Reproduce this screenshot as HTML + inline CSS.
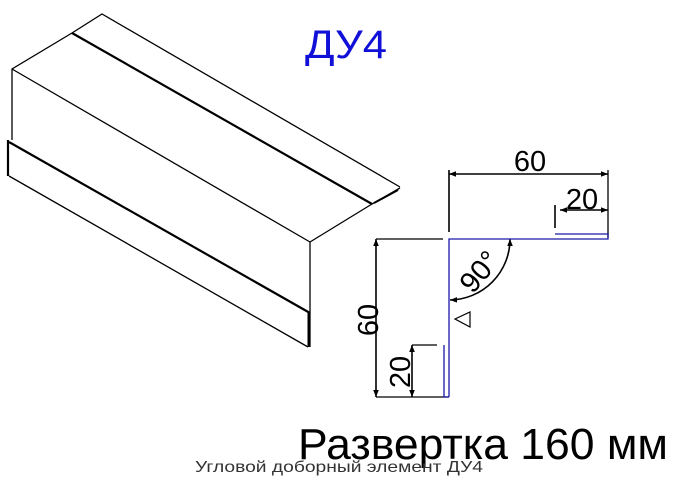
<!DOCTYPE html>
<html><head><meta charset="utf-8"><style>
html,body{margin:0;padding:0;background:#fff;}
svg{display:block;}
</style></head><body>
<svg width="684" height="490" viewBox="0 0 684 490" xmlns="http://www.w3.org/2000/svg">
<defs>
<marker id="a" viewBox="0 0 10 10" refX="10" refY="5" markerWidth="14" markerHeight="7" orient="auto-start-reverse" markerUnits="userSpaceOnUse"><path d="M0,1 L10,5 L0,9 z" fill="#000"/></marker>
</defs>
<g stroke="#000" fill="none" stroke-width="1.3">
<polyline points="12,140 12,69 72,33 102,14 400,187"/>
<line x1="72" y1="33" x2="372" y2="204" stroke-width="2.2"/>
<line x1="12" y1="69" x2="310" y2="242"/>
<polyline points="310,242 372,204 400,188"/>
<line x1="374" y1="203" x2="398" y2="190" stroke-width="2"/>
<line x1="8" y1="140" x2="8" y2="176" stroke-width="2.2"/>
<line x1="9" y1="142" x2="310" y2="313" stroke-width="2.2"/>
<line x1="9" y1="176" x2="308" y2="347"/>
<line x1="310" y1="242" x2="310" y2="347"/>
<line x1="309" y1="312" x2="309" y2="347" stroke-width="3"/>
<line x1="449" y1="170" x2="449" y2="232" stroke-width="1.6"/>
<line x1="608" y1="170" x2="608" y2="238"/>
<line x1="449" y1="174" x2="608" y2="174" stroke-width="1.6" marker-start="url(#a)" marker-end="url(#a)"/>
<line x1="555" y1="205" x2="555" y2="228" stroke-width="1.6"/>
<line x1="560" y1="210" x2="608" y2="210" stroke-width="1.6" marker-start="url(#a)" marker-end="url(#a)"/>
<line x1="376" y1="239" x2="443" y2="239"/>
<line x1="376" y1="397" x2="449" y2="397"/>
<line x1="376" y1="239" x2="376" y2="397" stroke-width="1.6" marker-start="url(#a)" marker-end="url(#a)"/>
<line x1="412" y1="345" x2="437" y2="345"/>
<line x1="412" y1="345" x2="412" y2="397" stroke-width="1.6" marker-start="url(#a)" marker-end="url(#a)"/>
<path d="M510,239 A61,61 0 0 1 450,300" stroke-width="1.6" marker-start="url(#a)" marker-end="url(#a)"/>
<polygon points="455,319 470,312 470,327" stroke-width="1.2"/>
</g>
<g stroke="#1a1aa8" fill="none" stroke-width="1.3">
<polyline points="449,397 449,239 608,239 608,234 555,234"/>
<polyline points="449,397 444,397 444,345"/>
</g>
<g font-family="Liberation Sans, sans-serif" fill="#000">
<text x="530" y="171" font-size="29" text-anchor="middle">60</text>
<text x="582" y="209" font-size="29" text-anchor="middle">20</text>
<text transform="translate(378,320) rotate(-90)" font-size="29" text-anchor="middle">60</text>
<text transform="translate(410,372) rotate(-90)" font-size="29" text-anchor="middle">20</text>
<text transform="translate(487,278) rotate(-50)" font-size="29" text-anchor="middle">90°</text>
<text x="305" y="58" font-size="40" fill="#1010d8" textLength="82" lengthAdjust="spacingAndGlyphs">ДУ4</text>
<text x="298" y="459" font-size="44" textLength="370" lengthAdjust="spacingAndGlyphs">Развертка 160 мм</text>
<text x="195" y="472" font-size="16" fill="#333" textLength="288" lengthAdjust="spacingAndGlyphs">Угловой доборный элемент ДУ4</text>
</g>
</svg>
</body></html>
